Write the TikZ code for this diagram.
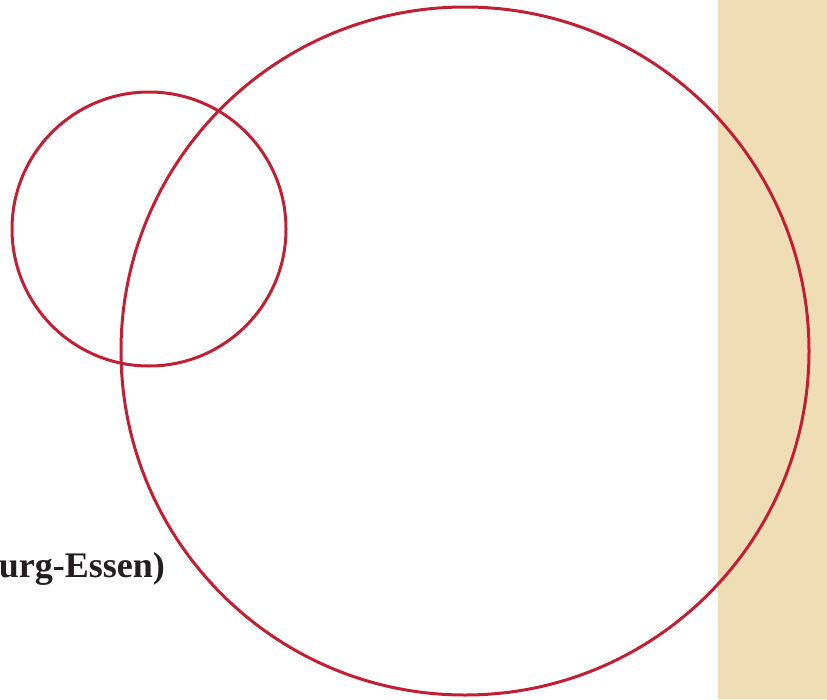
\documentclass[tikz,border=0pt]{standalone}
\usepackage{fontspec}
\setmainfont{Liberation Serif}
\usetikzlibrary{positioning}
\definecolor{ring}{RGB}{193,32,52}
\definecolor{sand}{RGB}{239,221,182}
\definecolor{ink}{RGB}{35,31,32}
\begin{document}
\begin{tikzpicture}[
  x=1pt, y=-1pt,
  rim/.style={draw=ring, line width=3pt},
  lbl/.style={font=\bfseries\fontsize{36}{40}\selectfont, text=ink,
              inner sep=0pt}]
  \useasboundingbox (0,0) rectangle (827,699);
  \fill[sand] (718,0) rectangle (827,699);
  \coordinate (big) at (465,351);
  \coordinate (small) at (149,229);
  \draw[rim] (big) circle[radius=344];
  \draw[rim] (small) circle[radius=137];
  \node[lbl, anchor=base east] (name) at (165,577) {urg-Essen)};
\end{tikzpicture}
\end{document}
